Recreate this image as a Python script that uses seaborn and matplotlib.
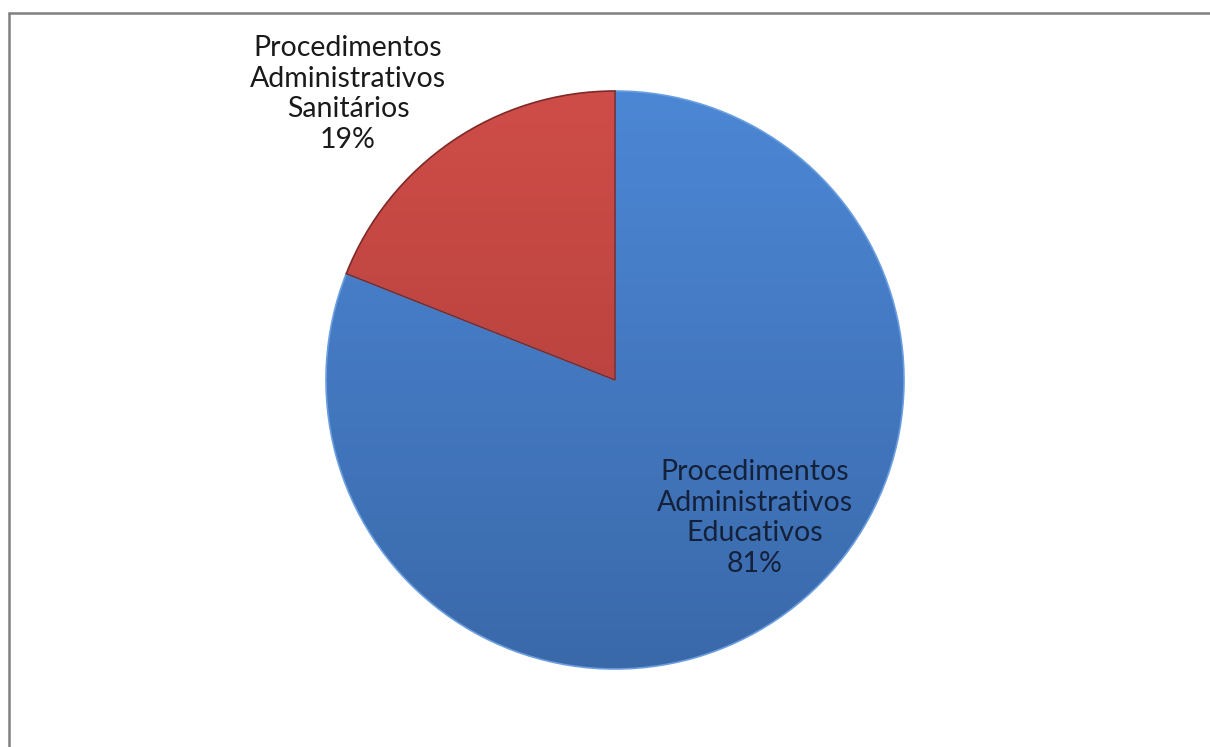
import numpy as np
import matplotlib
matplotlib.use("Agg")
import matplotlib.pyplot as plt
import seaborn as sns
from matplotlib.colors import LinearSegmentedColormap

# Data
categories = ["Procedimentos\nAdministrativos\nEducativos",
              "Procedimentos\nAdministrativos\nSanitários"]
shares = [81, 19]
pct_labels = ["81%", "19%"]

sns.set_theme(style="white")
plt.rcParams["font.family"] = ["Lato", "DejaVu Sans"]

W, H = 1210, 747
fig = plt.figure(figsize=(W / 100, H / 100), dpi=100)
fig.patch.set_facecolor("white")

cx, cy, r = 615, 380, 289
ax = fig.add_axes([(cx - r) / W, (H - cy - r) / H, 2 * r / W, 2 * r / H])
ax.set_xlim(-1, 1)
ax.set_ylim(-1, 1)
ax.set_aspect("equal")
ax.axis("off")

base = ["#4a7ebb", "#be4b48"]
grad = [("#4c87d5", "#3a69aa"), ("#cf4d48", "#a93a37")]
edges = ["#6a9ee0", "#7e2a28"]

# Clockwise from the top: the large slice first, so the small one lands upper left
wedges, _ = ax.pie(shares, startangle=90, counterclock=False, colors=base,
                   radius=1.0, center=(0, 0),
                   wedgeprops=dict(linewidth=1.2))
for w, (top, bot), ec in zip(wedges, grad, edges):
    w.set_edgecolor(ec)
    cmap = LinearSegmentedColormap.from_list("g", [bot, top])
    yy = np.linspace(1, 0, 256).reshape(-1, 1) * np.ones((1, 2))
    img = ax.imshow(yy, cmap=cmap, extent=(-1, 1, -1, 1), origin="upper",
                    zorder=w.get_zorder() + 0.1, aspect="auto", vmin=0, vmax=1)
    img.set_clip_path(w)
    w.set_facecolor("none")
    w.set_zorder(w.get_zorder() + 0.2)

ax.set_xlim(-1, 1)
ax.set_ylim(-1, 1)


def fig_xy(px, py):
    return px / W, 1 - py / H


fx, fy = fig_xy(755, 518)
fig.text(fx, fy, categories[0] + "\n" + pct_labels[0], ha="center", va="center",
         fontsize=20.5, color="#14213a", linespacing=1.22)
fx, fy = fig_xy(348, 94)
fig.text(fx, fy, categories[1] + "\n" + pct_labels[1], ha="center", va="center",
         fontsize=20.5, color="#1a1a1a", linespacing=1.22)

# Outer frame (top and left edges)
fig.add_artist(plt.Line2D([9 / W, 1], [1 - 12.5 / H, 1 - 12.5 / H],
                          color="#808080", linewidth=1.8, transform=fig.transFigure))
fig.add_artist(plt.Line2D([9 / W, 9 / W], [0, 1 - 12.5 / H],
                          color="#808080", linewidth=1.8, transform=fig.transFigure))

fig.savefig("out.png", dpi=100, facecolor="white")
